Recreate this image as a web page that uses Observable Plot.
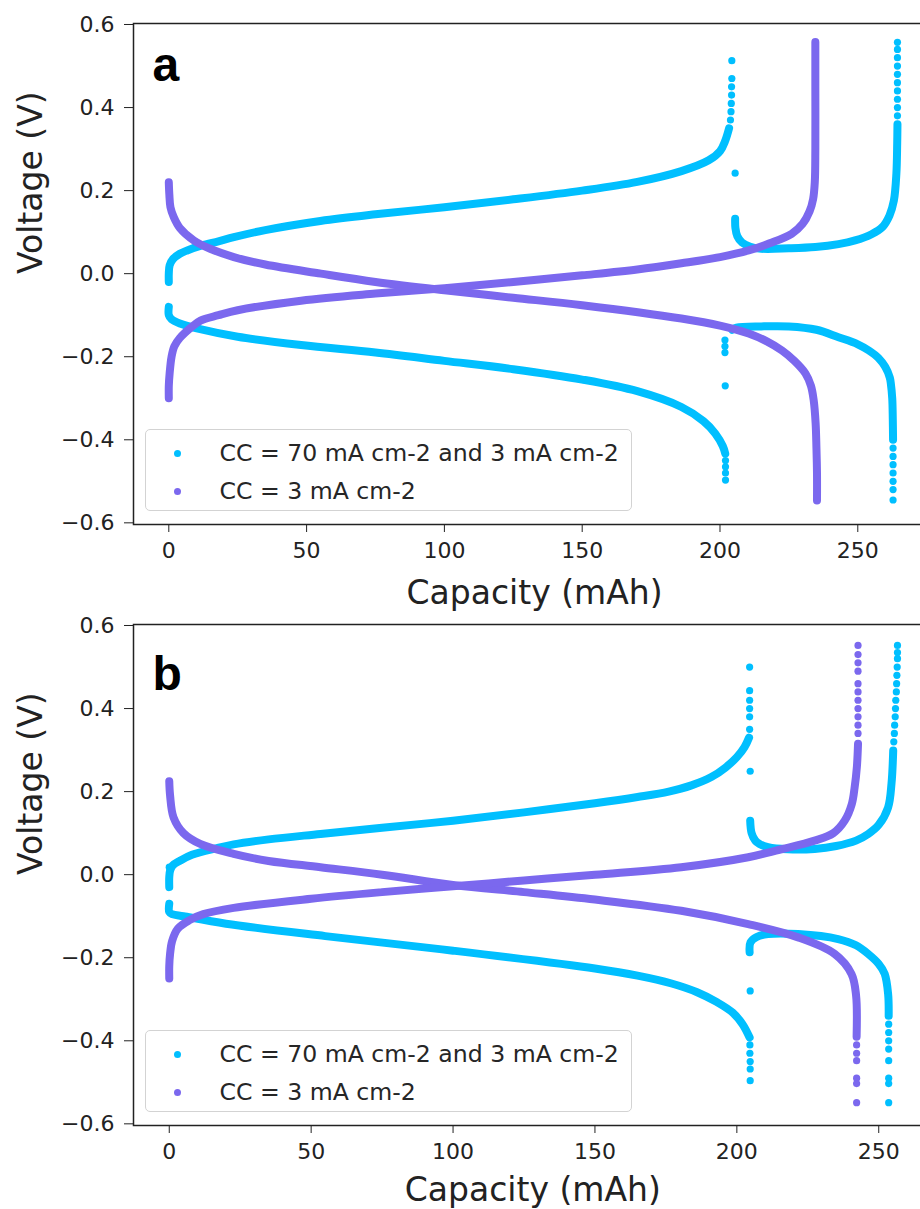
<!DOCTYPE html>
<html>
<head>
<meta charset="utf-8">
<script src="https://cdn.jsdelivr.net/npm/d3@7"></script>
<script src="https://cdn.jsdelivr.net/npm/@observablehq/plot@0.6"></script>
<style>
html, body { margin: 0; padding: 0; background: #fff; overflow: hidden; }
#wrap { position: relative; width: 920px; height: 1209px; overflow: hidden; background: #fff; }
.panel { position: absolute; left: 0; }
.legend { position: absolute; box-sizing: border-box; border: 1.5px solid #d3d3d3; border-radius: 5px;
  background: rgba(255,255,255,0.85); font-family: "DejaVu Sans"; font-size: 23.6px; color: #262626; }
.legend .row { position: absolute; left: 0; height: 0; }
.legend .dot { position: absolute; width: 7px; height: 7px; border-radius: 50%; top: -3.5px; }
.legend .lab { position: absolute; white-space: nowrap; line-height: 1; top: -0.5em; }
</style>
</head>
<body>
<div id="wrap"></div>
<script>
// ---------- series ----------
const SERIES = ["CC = 70 mA cm-2 and 3 mA cm-2", "CC = 3 mA cm-2"];
const COLORS = ["#00BFFF", "#7B68EE"];
const X_TICKS = [0, 50, 100, 150, 200, 250];
const Y_TICKS = [-0.6, -0.4, -0.2, 0.0, 0.2, 0.4, 0.6];
const X_LABEL = "Capacity (mAh)";
const Y_LABEL = "Voltage (V)";

// ---------- panel a (capacity mAh, voltage V) ----------
const a_cyan_chg1 = [[0,-0.02],[0,0.0],[0.3,0.02],[1.5,0.035],[4,0.048],[6.7,0.056],[12,0.068],[18,0.078],[23.6,0.088],[35,0.105],[55,0.127],[75,0.143],[100,0.16],[125,0.179],[150,0.2],[170,0.221],[186,0.247],[195.9,0.273],[200,0.295],[201.9,0.32],[203.3,0.35]];
const a_cyan_chg1_pts = [[203.8,0.37],[204,0.39],[204.1,0.41],[204.2,0.43],[204.2,0.45],[204.3,0.47],[204.3,0.513],[205.5,0.242]];
const a_cyan_chg2 = [[205.5,0.132],[205.6,0.11],[206.3,0.09],[208,0.075],[211,0.065],[215,0.06],[225,0.061],[234.6,0.064],[243,0.071],[249,0.08],[255,0.095],[258.9,0.112],[261.5,0.14],[263.1,0.176],[264,0.24],[264.3,0.313],[264.4,0.36]];
const a_cyan_chg2_pts = [[264.4,0.38],[264.4,0.4],[264.4,0.42],[264.4,0.44],[264.4,0.46],[264.4,0.48],[264.4,0.5],[264.4,0.52],[264.4,0.54],[264.4,0.557]];
const a_cyan_dis1 = [[0,-0.08],[0,-0.1],[1,-0.11],[4,-0.12],[11,-0.133],[25,-0.152],[48,-0.172],[75,-0.19],[100,-0.21],[125,-0.23],[150,-0.255],[170,-0.283],[186,-0.321],[194,-0.355],[198.3,-0.385],[201,-0.415],[201.9,-0.433]];
const a_cyan_dis1_pts = [[202,-0.45],[202,-0.465],[202,-0.48],[202,-0.497],[201.8,-0.16],[201.8,-0.175],[201.8,-0.19],[201.9,-0.27]];
const a_cyan_dis2 = [[204.4,-0.135],[206,-0.13],[215,-0.127],[225,-0.127],[235,-0.135],[243,-0.153],[250,-0.17],[254,-0.185],[257.5,-0.203],[260,-0.225],[261.6,-0.25],[262,-0.265],[262.5,-0.3],[262.7,-0.35],[262.8,-0.4]];
const a_cyan_dis2_pts = [[262.8,-0.42],[262.8,-0.44],[262.8,-0.46],[262.8,-0.48],[262.8,-0.5],[262.8,-0.52],[262.8,-0.545]];
const a_purple_dis = [[0,0.22],[0.2,0.19],[0.6,0.16],[1.8,0.136],[4,0.11],[9.1,0.08],[15,0.06],[23.6,0.04],[35,0.022],[55.2,0.0],[75,-0.02],[100,-0.04],[125,-0.058],[150,-0.076],[186,-0.108],[200,-0.125],[210.4,-0.144],[217,-0.163],[222.5,-0.185],[227,-0.21],[231,-0.24],[233,-0.27],[234,-0.305],[234.7,-0.36],[235,-0.42],[235.2,-0.48],[235.2,-0.546]];
const a_purple_chg = [[0,-0.3],[0,-0.27],[0.3,-0.24],[1,-0.2],[2,-0.175],[4,-0.155],[8,-0.13],[11.5,-0.113],[18,-0.1],[25,-0.088],[48,-0.065],[75,-0.048],[100,-0.035],[125,-0.02],[150,-0.004],[170,0.01],[186,0.025],[200,0.04],[210.4,0.056],[218,0.073],[226,0.096],[230,0.12],[232.5,0.15],[233.8,0.18],[234.4,0.22],[234.6,0.3],[234.6,0.45],[234.6,0.558]];

// ---------- panel b ----------
const b_cyan_chg1 = [[0,-0.03],[0,-0.006],[0.3,0.01],[1.2,0.022],[3.9,0.034],[8,0.048],[16.8,0.064],[22.7,0.073],[35,0.085],[53.3,0.098],[75,0.113],[100,0.13],[125,0.15],[150,0.172],[165,0.187],[176,0.2],[184,0.215],[191,0.235],[196,0.258],[200,0.283],[202.7,0.307],[204.3,0.33]];
const b_cyan_chg1_pts = [[0,0.018],[204.5,0.35],[204.5,0.38],[204.5,0.4],[204.5,0.42],[204.5,0.443],[204.5,0.5],[204.7,0.249]];
const b_cyan_chg2 = [[204.7,0.13],[205.2,0.1],[206.5,0.082],[208,0.074],[211,0.066],[218,0.061],[227.4,0.062],[235,0.069],[242,0.082],[246.3,0.098],[250,0.12],[253.3,0.162],[254.5,0.22],[255.1,0.299]];
const b_cyan_chg2_pts = [[255.3,0.32],[255.5,0.34],[255.6,0.36],[255.8,0.38],[255.9,0.4],[256,0.42],[256.2,0.44],[256.3,0.46],[256.4,0.48],[256.5,0.5],[256.6,0.52],[256.6,0.535],[256.6,0.552]];
const b_cyan_dis1 = [[0,-0.07],[0,-0.09],[1,-0.095],[5,-0.1],[20,-0.118],[55,-0.148],[100,-0.183],[150,-0.226],[165,-0.243],[177,-0.262],[186,-0.283],[193,-0.307],[198.5,-0.332],[202,-0.36],[204.5,-0.392]];
const b_cyan_dis1_pts = [[204.6,-0.41],[204.6,-0.43],[204.7,-0.45],[204.7,-0.468],[204.7,-0.496],[204.7,-0.28]];
const b_cyan_dis2 = [[204.5,-0.187],[204.8,-0.163],[207,-0.15],[211,-0.143],[221.6,-0.143],[235.7,-0.155],[242,-0.17],[246.3,-0.191],[250,-0.215],[252.1,-0.239],[253.3,-0.287],[253.5,-0.34]];
const b_cyan_dis2_pts = [[253.5,-0.36],[253.5,-0.38],[253.5,-0.4],[253.5,-0.42],[253.5,-0.448],[253.5,-0.49],[253.5,-0.503],[253.5,-0.549]];
const b_purple_dis = [[0,0.225],[0.3,0.19],[1.5,0.138],[5,0.1],[10.9,0.074],[22.7,0.05],[35,0.033],[53.3,0.018],[75,0.0],[100,-0.025],[125,-0.042],[150,-0.06],[180.4,-0.087],[204,-0.119],[221.6,-0.151],[234.5,-0.191],[240.4,-0.239],[242,-0.29],[242.2,-0.39]];
const b_purple_dis_pts = [[242.2,-0.41],[242.2,-0.43],[242.2,-0.448],[242.2,-0.49],[242.2,-0.503],[242.2,-0.549]];
const b_purple_chg = [[0,-0.25],[0,-0.22],[0.3,-0.19],[1,-0.16],[3,-0.13],[7,-0.11],[12,-0.095],[22.7,-0.08],[50,-0.058],[75,-0.042],[100,-0.028],[125,-0.014],[150,0.0],[180.4,0.018],[204,0.042],[215,0.06],[227.4,0.082],[234,0.1],[238,0.13],[240.5,0.17],[241.5,0.21],[242.3,0.26],[242.7,0.315]];
const b_purple_chg_pts = [[242.7,0.34],[242.7,0.36],[242.7,0.38],[242.7,0.4],[242.7,0.42],[242.7,0.44],[242.7,0.46],[242.7,0.49],[242.7,0.51],[242.7,0.53],[242.7,0.552]];

// ---------- build ----------
const PANELS = [
  { letter: "a", top: 0, height: 615, marginTop: 23, marginBottom: 91, xDomain: [-12.81, 278.2], marginRight: 5,
    letterDy: 57, xLabelDy: 79, legendTop: 429,
    lines: [[a_cyan_chg1,0],[a_cyan_chg2,0],[a_cyan_dis1,0],[a_cyan_dis2,0],[a_purple_dis,1],[a_purple_chg,1]],
    points: [[a_cyan_chg1_pts,0],[a_cyan_chg2_pts,0],[a_cyan_dis1_pts,0],[a_cyan_dis2_pts,0]] },
  { letter: "b", top: 600, height: 609, marginTop: 24, marginBottom: 84, xDomain: [-12.6, 268.8], marginRight: 8.4,
    letterDy: 65, xLabelDy: 75, legendTop: 1030,
    lines: [[b_cyan_chg1,0],[b_cyan_chg2,0],[b_cyan_dis1,0],[b_cyan_dis2,0],[b_purple_dis,1],[b_purple_chg,1]],
    points: [[b_cyan_chg1_pts,0],[b_cyan_chg2_pts,0],[b_cyan_dis1_pts,0],[b_cyan_dis2_pts,0],[b_purple_dis_pts,1],[b_purple_chg_pts,1]] }
];

const wrap = document.getElementById("wrap");

for (const P of PANELS) {
  const lineRows = [], dotRows = [];
  P.lines.forEach(([pts, c], i) => pts.forEach(([x, y]) => lineRows.push({x, y, seg: i, c})));
  P.points.forEach(([pts, c]) => pts.forEach(([x, y]) => dotRows.push({x, y, c})));
  const marks = [];
  for (const c of [0, 1]) {
    marks.push(Plot.line(lineRows.filter(d => d.c === c), {
      x: "x", y: "y", z: "seg", stroke: COLORS[c], strokeWidth: 8, curve: "catmull-rom",
      strokeLinecap: "round", strokeLinejoin: "round"
    }));
    marks.push(Plot.dot(dotRows.filter(d => d.c === c), {x: "x", y: "y", r: 3.6, fill: COLORS[c], stroke: "none"}));
  }
  marks.push(Plot.frame({stroke: "#222", strokeWidth: 1.5}));
  marks.push(Plot.text([P.letter], {frameAnchor: "top-left", text: d => d, dx: 19, dy: P.letterDy,
    lineAnchor: "bottom", textAnchor: "start", fontSize: 48, fontWeight: "bold", fontFamily: "Liberation Sans", fill: "#000"}));
  marks.push(Plot.text([X_LABEL], {frameAnchor: "bottom", text: d => d, dy: P.xLabelDy, lineAnchor: "bottom",
    fontSize: 33, fill: "#222"}));
  marks.push(Plot.text([Y_LABEL], {frameAnchor: "left", text: d => d, dx: -92, rotate: -90, lineAnchor: "bottom",
    fontSize: 33, fill: "#222"}));

  const svg = Plot.plot({
    width: 940, height: P.height,
    marginTop: P.marginTop, marginBottom: P.marginBottom, marginLeft: 133, marginRight: P.marginRight,
    style: "background:transparent;overflow:visible;max-width:none;font-family:'DejaVu Sans';font-size:22px;color:#222;",
    x: {domain: P.xDomain, ticks: X_TICKS, tickSize: 8, tickPadding: 10, tickFormat: d3.format("d"), label: null},
    y: {domain: [-0.604, 0.6024], ticks: Y_TICKS, tickSize: 9, tickPadding: 10, tickFormat: d3.format(".1f"), label: null},
    marks
  });
  svg.classList.add("panel");
  svg.style.top = P.top + "px";
  wrap.appendChild(svg);

  // legend
  const lg = document.createElement("div");
  lg.className = "legend";
  lg.style.left = "145px"; lg.style.top = P.legendTop + "px";
  lg.style.width = "487px"; lg.style.height = "82px";
  const rowsY = [23.5, 61.5];
  SERIES.forEach((name, i) => {
    const row = document.createElement("div");
    row.className = "row"; row.style.top = rowsY[i] + "px";
    const dot = document.createElement("span");
    dot.className = "dot"; dot.style.left = "27.5px"; dot.style.background = COLORS[i];
    const lab = document.createElement("span");
    lab.className = "lab"; lab.style.left = "73.5px"; lab.textContent = name;
    row.appendChild(dot); row.appendChild(lab);
    lg.appendChild(row);
  });
  wrap.appendChild(lg);
}
</script>
</body>
</html>
